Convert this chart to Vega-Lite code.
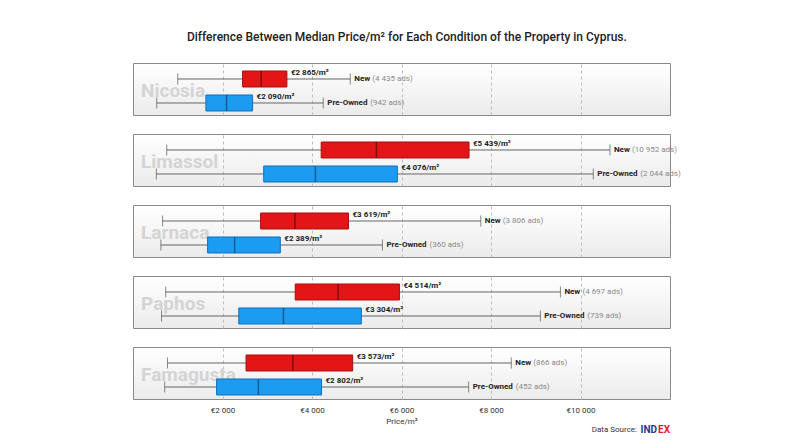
{
  "$schema": "https://vega.github.io/schema/vega-lite/v6.json",
  "padding": {"left": 132, "top": 30, "right": 5, "bottom": 0},
  "title": {"text": "Difference Between Median Price/m² for Each Condition of the Property in Cyprus.", "fontSize": 12, "fontWeight": 500, "color": "#222", "offset": 19, "anchor": "middle"},
  "config": {
    "font": "Roboto",
    "view": {"stroke": "#8a8a8a", "strokeWidth": 1, "fill": {"gradient": "linear", "x1": 0, "y1": 0, "x2": 0, "y2": 1, "stops": [{"offset": 0, "color": "#ffffff"}, {"offset": 1, "color": "#ebebeb"}]}}
  },
  "spacing": 0,
  "vconcat": [
    {
      "data": {"values": [
        {"city": "Nicosia", "condition": "New", "min": 1000, "q1": 2449, "median": 2865, "q3": 3439, "max": 4855, "medLabel": "€2 865/m²", "ads": "(4 435 ads)"},
        {"city": "Nicosia", "condition": "Pre-Owned", "min": 530, "q1": 1629, "median": 2090, "q3": 2673, "max": 4251, "medLabel": "€2 090/m²", "ads": "(942 ads)"},
        {"city": "Limassol", "condition": "New", "min": 754, "q1": 4205, "median": 5439, "q3": 7509, "max": 10658, "medLabel": "€5 439/m²", "ads": "(10 952 ads)"},
        {"city": "Limassol", "condition": "Pre-Owned", "min": 522, "q1": 2921, "median": 4076, "q3": 5907, "max": 10286, "medLabel": "€4 076/m²", "ads": "(2 044 ads)"},
        {"city": "Larnaca", "condition": "New", "min": 661, "q1": 2851, "median": 3619, "q3": 4816, "max": 7772, "medLabel": "€3 619/m²", "ads": "(3 806 ads)"},
        {"city": "Larnaca", "condition": "Pre-Owned", "min": 623, "q1": 1667, "median": 2271, "q3": 3292, "max": 5574, "medLabel": "€2 389/m²", "ads": "(360 ads)"},
        {"city": "Paphos", "condition": "New", "min": 731, "q1": 3625, "median": 4584, "q3": 5954, "max": 9551, "medLabel": "€4 514/m²", "ads": "(4 697 ads)"},
        {"city": "Paphos", "condition": "Pre-Owned", "min": 638, "q1": 2364, "median": 3362, "q3": 5103, "max": 9103, "medLabel": "€3 304/m²", "ads": "(739 ads)"},
        {"city": "Famagusta", "condition": "New", "min": 770, "q1": 2526, "median": 3573, "q3": 4909, "max": 8453, "medLabel": "€3 573/m²", "ads": "(866 ads)"},
        {"city": "Famagusta", "condition": "Pre-Owned", "min": 708, "q1": 1868, "median": 2802, "q3": 4213, "max": 7501, "medLabel": "€2 802/m²", "ads": "(452 ads)"}
      ]},
      "facet": {"row": {"field": "city", "type": "nominal", "sort": ["Nicosia", "Limassol", "Larnaca", "Paphos", "Famagusta"], "header": {"labels": false, "title": null}}},
      "spacing": {"row": 17},
      "spec": {
        "width": 537,
        "height": 52,
        "encoding": {
          "y": {"field": "condition", "type": "nominal", "axis": null, "scale": {"domain": ["New", "Pre-Owned"], "paddingInner": 0, "paddingOuter": 0.0833, "align": 1}}
        },
        "layer": [
          {
            "transform": [{"filter": "datum.condition === 'New'"}],
            "mark": {"type": "text", "align": "left", "baseline": "middle", "fontSize": 19, "fontWeight": "bold", "color": "#d4d4d4", "dy": 0},
            "encoding": {
              "x": {"datum": 180, "type": "quantitative"},
              "y": {"datum": "New", "type": "nominal", "bandPosition": 1},
              "text": {"field": "city"}
            }
          },
          {
            "mark": {"type": "rule", "color": "#666", "strokeWidth": 1},
            "encoding": {
              "x": {"field": "min", "type": "quantitative", "scale": {"domain": [0, 12000], "nice": false}, "axis": {"values": [2000, 4000, 6000, 8000, 10000], "labelExpr": "'€' + replace(format(datum.value, ','), ',', ' ')", "grid": true, "gridDash": [3, 3], "gridColor": "#bdbdbd", "ticks": false, "domain": false, "labelFontSize": 8, "labelColor": "#333", "labelPadding": 6, "title": "Price/m²", "titleFontSize": 8, "titleFontWeight": "normal", "titleColor": "#333", "titlePadding": 3}},
              "x2": {"field": "max"}
            }
          },
          {
            "mark": {"type": "tick", "color": "#555", "size": 11, "thickness": 1},
            "encoding": {"x": {"field": "min", "type": "quantitative"}}
          },
          {
            "mark": {"type": "tick", "color": "#555", "size": 11, "thickness": 1},
            "encoding": {"x": {"field": "max", "type": "quantitative"}}
          },
          {
            "mark": {"type": "bar", "size": 16, "strokeWidth": 1},
            "encoding": {
              "x": {"field": "q1", "type": "quantitative"},
              "x2": {"field": "q3"},
              "fill": {"field": "condition", "type": "nominal", "scale": {"domain": ["New", "Pre-Owned"], "range": ["#e21616", "#1c9cf0"]}, "legend": null},
              "stroke": {"field": "condition", "type": "nominal", "scale": {"domain": ["New", "Pre-Owned"], "range": ["#a81010", "#1170b8"]}, "legend": null}
            }
          },
          {
            "mark": {"type": "tick", "size": 16, "thickness": 1.5},
            "encoding": {
              "x": {"field": "median", "type": "quantitative"},
              "color": {"field": "condition", "type": "nominal", "scale": {"domain": ["New", "Pre-Owned"], "range": ["#5a0a0a", "#17406a"]}, "legend": null}
            }
          },
          {
            "mark": {"type": "text", "align": "left", "baseline": "middle", "dx": 4, "dy": -6, "fontSize": 8, "fontWeight": "bold", "color": "#222"},
            "encoding": {"x": {"field": "q3", "type": "quantitative"}, "text": {"field": "medLabel"}}
          },
          {
            "mark": {"type": "text", "align": "left", "baseline": "middle", "dx": 4, "fontSize": 8, "fontWeight": "bold", "color": "#222"},
            "encoding": {"x": {"field": "max", "type": "quantitative"}, "text": {"field": "condition"}}
          },
          {
            "transform": [{"filter": "datum.condition === 'New'"}],
            "mark": {"type": "text", "align": "left", "baseline": "middle", "dx": 22, "fontSize": 8, "color": "#8a8a8a"},
            "encoding": {"x": {"field": "max", "type": "quantitative"}, "text": {"field": "ads"}}
          },
          {
            "transform": [{"filter": "datum.condition === 'Pre-Owned'"}],
            "mark": {"type": "text", "align": "left", "baseline": "middle", "dx": 47, "fontSize": 8, "color": "#8a8a8a"},
            "encoding": {"x": {"field": "max", "type": "quantitative"}, "text": {"field": "ads"}}
          }
        ]
      }
    },
    {
      "width": 537,
      "height": 8,
      "view": {"stroke": null, "fill": null},
      "data": {"values": [{"source": "Data Source:", "a": "IND", "b": "EX"}]},
      "encoding": {"x": {"datum": 12000, "type": "quantitative", "scale": {"domain": [0, 12000], "nice": false}, "axis": null}},
      "layer": [
        {"mark": {"type": "text", "align": "right", "baseline": "middle", "fontSize": 10, "fontWeight": "bold", "color": "#e01e2b"}, "encoding": {"text": {"field": "b"}}},
        {"mark": {"type": "text", "align": "right", "baseline": "middle", "dx": -13, "fontSize": 10, "fontWeight": "bold", "color": "#1f3a93"}, "encoding": {"text": {"field": "a"}}},
        {"mark": {"type": "text", "align": "right", "baseline": "middle", "dx": -33, "fontSize": 8, "color": "#333"}, "encoding": {"text": {"field": "source"}}}
      ]
    }
  ]
}
